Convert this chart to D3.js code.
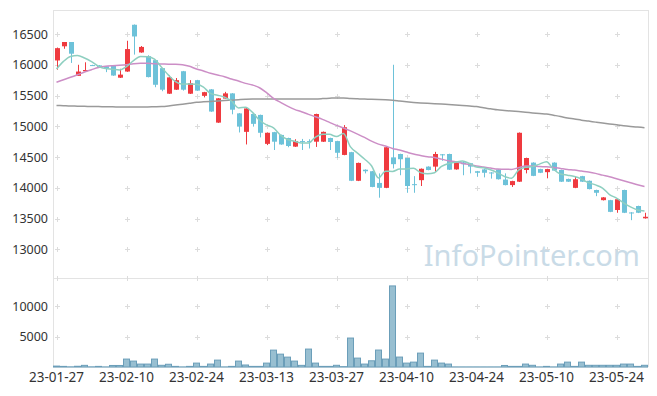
<!DOCTYPE html>
<html>
<head>
<meta charset="utf-8">
<script src="https://cdn.jsdelivr.net/npm/d3@7"></script>
<style>
  html, body { margin: 0; padding: 0; background: #fff; }
  svg { display: block; font-family: 'Noto Sans', sans-serif; }
</style>
</head>
<body>
<svg id="chart" width="657" height="396"></svg>
<script>
// trading days (yy-mm-dd)
const dates = [
  '23-01-27','23-01-30','23-01-31','23-02-01','23-02-02','23-02-03','23-02-06','23-02-07','23-02-08','23-02-09',
  '23-02-10','23-02-13','23-02-14','23-02-15','23-02-16','23-02-17','23-02-20','23-02-21','23-02-22','23-02-23',
  '23-02-24','23-02-27','23-02-28','23-03-02','23-03-03','23-03-06','23-03-07','23-03-08','23-03-09','23-03-10',
  '23-03-13','23-03-14','23-03-15','23-03-16','23-03-17','23-03-20','23-03-21','23-03-22','23-03-23','23-03-24',
  '23-03-27','23-03-28','23-03-29','23-03-30','23-03-31','23-04-03','23-04-04','23-04-05','23-04-06','23-04-07',
  '23-04-10','23-04-11','23-04-12','23-04-13','23-04-14','23-04-17','23-04-18','23-04-19','23-04-20','23-04-21',
  '23-04-24','23-04-25','23-04-26','23-04-27','23-04-28','23-05-02','23-05-03','23-05-04','23-05-08','23-05-09',
  '23-05-10','23-05-11','23-05-12','23-05-15','23-05-16','23-05-17','23-05-18','23-05-19','23-05-22','23-05-23',
  '23-05-24','23-05-25','23-05-26','23-05-30','23-05-31'
];

const open = [
  16070,16300,16370,15820,15895,15995,15990,15975,15990,15790,
  15890,16650,16200,16140,16075,15945,15530,15595,15895,15530,
  15750,15495,15600,15060,15450,15535,15210,14910,15200,15185,
  14715,14905,14860,14810,14670,14760,14760,14750,14750,14810,
  14760,14535,14580,14115,14295,14270,14080,14000,14495,14550,
  14485,14060,14125,14345,14345,14545,14550,14300,14415,14400,
  14270,14300,14250,14300,14135,14045,14100,14290,14410,14305,
  14255,14410,14290,14145,14000,14190,14115,13965,13800,13800,
  13640,13965,13600,13705,13505
];
const high = [
  16280,16370,16370,16000,16040,16000,15995,15980,15995,15935,
  16390,16655,16305,16155,16080,15950,15830,15785,15900,15750,
  15755,15560,15605,15460,15560,15540,15215,15295,15205,15190,
  14900,14910,14865,14815,14790,14795,14790,15205,14915,14815,
  14765,15020,14585,14410,14300,14275,14235,14665,16000,14555,
  14490,14190,14315,14350,14585,14550,14555,14420,14420,14405,
  14275,14310,14255,14305,14235,14115,14900,14490,14415,14310,
  14310,14415,14295,14150,14180,14195,14120,13970,13850,13805,
  13820,13970,13605,13710,13595
];
const low = [
  15920,16260,16030,15820,15890,15980,15955,15880,15820,15785,
  15885,16165,16195,15795,15635,15570,15525,15590,15580,15525,
  15575,15470,15235,15055,15445,15195,14900,14705,14995,14820,
  14695,14615,14700,14660,14665,14615,14640,14665,14745,14615,
  14490,14530,14110,14110,14235,14010,13840,13995,14315,14205,
  13920,13920,14030,14285,14260,14440,14290,14295,14205,14235,
  14180,14170,14150,14135,14040,14015,14095,14235,14190,14240,
  14155,14275,14095,14095,13995,14095,13975,13865,13795,13605,
  13595,13590,13475,13590,13500
];
const close = [
  16270,16370,16180,15890,15915,15985,15960,15940,15825,15840,
  16255,16460,16290,15800,15675,15595,15795,15750,15595,15700,
  15580,15555,15240,15455,15535,15270,14995,15290,15040,14895,
  14895,14750,14705,14680,14760,14745,14745,15200,14910,14745,
  14570,14985,14115,14405,14270,14015,14000,14660,14385,14465,
  14030,14050,14310,14290,14550,14535,14295,14415,14385,14345,
  14245,14245,14245,14140,14045,14110,14895,14485,14195,14245,
  14305,14280,14100,14100,14140,14100,13980,13920,13845,13610,
  13815,13595,13590,13595,13530
];
const volume = [
  150,100,30,120,270,30,100,20,250,250,
  1300,970,480,480,1300,280,450,100,20,100,
  640,100,480,1130,20,100,970,330,100,100,
  640,2770,2110,1620,970,270,2940,640,100,100,
  280,60,4750,1460,480,1020,2780,1300,13300,1630,
  640,800,2280,100,1130,640,480,20,20,20,
  20,20,20,20,250,100,100,480,280,20,
  100,20,480,800,100,800,280,280,280,280,
  280,480,480,100,280
];
// moving averages
const ma5 = [
  15930,16055,16135,16150,16110,16050,15975,15938,15928,15915,
  15970,16068,16134,16130,16090,15960,15832,15725,15685,15688,
  15684,15636,15534,15506,15473,15411,15299,15309,15226,15098,
  15023,14974,14857,14785,14758,14728,14727,14826,14872,14869,
  14834,14882,14665,14564,14469,14358,14161,14270,14266,14305,
  14308,14318,14248,14229,14246,14347,14396,14417,14436,14395,
  14337,14327,14293,14244,14184,14157,14287,14335,14346,14386,
  14425,14302,14225,14206,14185,14144,14084,14048,13997,13891,
  13834,13757,13691,13641,13625
];
const ma20 = [
  15715,15757,15796,15838,15882,15920,15955,15975,15985,15992,
  16002,16017,16025,16023,16015,16012,16010,16008,16000,15975,
  15930,15900,15861,15833,15806,15768,15736,15698,15671,15627,
  15546,15454,15389,15329,15276,15237,15194,15155,15113,15064,
  15015,14972,14925,14874,14820,14760,14711,14679,14641,14614,
  14581,14549,14527,14505,14495,14467,14440,14424,14397,14381,
  14354,14337,14321,14305,14303,14300,14327,14354,14354,14345,
  14343,14332,14316,14300,14289,14272,14256,14235,14207,14180,
  14148,14115,14083,14050,14023
];
const ma60 = [
  15340,15335,15330,15328,15325,15322,15320,15318,15316,15315,
  15313,15313,15314,15315,15318,15322,15332,15345,15360,15375,
  15390,15398,15405,15412,15418,15425,15432,15438,15442,15444,
  15445,15444,15443,15443,15442,15442,15443,15445,15450,15456,
  15462,15460,15452,15447,15443,15440,15436,15430,15422,15410,
  15398,15388,15380,15374,15368,15362,15355,15348,15340,15330,
  15320,15300,15285,15268,15258,15248,15240,15230,15218,15208,
  15200,15180,15160,15135,15120,15100,15085,15068,15052,15038,
  15025,15010,14998,14988,14978
];
const xTickLabels = ['23-01-27','23-02-10','23-02-24','23-03-13','23-03-27','23-04-10','23-04-24','23-05-10','23-05-24'];
const priceTicks = [13000, 13500, 14000, 14500, 15000, 15500, 16000, 16500];
const volumeTicks = [5000, 10000];

const left = 53, right = 648;
const priceTop = 10, priceBottom = 277.7;
const volTop = 278, volBottom = 367;

const svg = d3.select('#chart');

const x = d3.scaleBand().domain(dates).range([left, right]);
const cx = (d) => x(d) + x.bandwidth() / 2;
const y = d3.scaleLinear().domain([12540, 16890]).range([priceBottom, priceTop]);
const yv = d3.scaleLinear().domain([0, 14600]).range([volBottom, volTop]);

// frame
const frame = svg.append('g').attr('stroke', '#e3e3e3').attr('stroke-width', 1);
frame.append('line').attr('x1', left).attr('x2', right).attr('y1', priceTop + 0.5).attr('y2', priceTop + 0.5);
frame.append('line').attr('x1', left).attr('x2', right).attr('y1', volTop + 0.5).attr('y2', volTop + 0.5);
frame.append('line').attr('x1', left).attr('x2', right).attr('y1', volBottom + 0.5).attr('y2', volBottom + 0.5).attr('stroke', '#ececec');
frame.append('line').attr('x1', left + 0.5).attr('x2', left + 0.5).attr('y1', priceTop).attr('y2', volBottom);
frame.append('line').attr('x1', right + 0.5).attr('x2', right + 0.5).attr('y1', priceTop).attr('y2', volBottom);

// grid crosses
const cross = svg.append('g').attr('stroke', '#dcdcdc').attr('stroke-width', 1);
const gridPts = [];
xTickLabels.forEach((d) => {
  priceTicks.forEach((v) => gridPts.push([cx(d), y(v)]));
  volumeTicks.forEach((v) => gridPts.push([cx(d), yv(v)]));
});
cross.selectAll('.h').data(gridPts).join('line')
  .attr('x1', (p) => Math.round(p[0]) - 2).attr('x2', (p) => Math.round(p[0]) + 3)
  .attr('y1', (p) => Math.round(p[1]) + 0.5).attr('y2', (p) => Math.round(p[1]) + 0.5);
cross.selectAll('.v').data(gridPts).join('line')
  .attr('x1', (p) => Math.round(p[0]) + 0.5).attr('x2', (p) => Math.round(p[0]) + 0.5)
  .attr('y1', (p) => Math.round(p[1]) - 2).attr('y2', (p) => Math.round(p[1]) + 3);
cross.selectAll('.b').data(xTickLabels).join('line')
  .attr('x1', (d) => Math.round(cx(d)) + 0.5).attr('x2', (d) => Math.round(cx(d)) + 0.5)
  .attr('y1', volTop - 2).attr('y2', volTop + 3);

// watermark
svg.append('text')
  .attr('x', 640).attr('y', 266)
  .attr('text-anchor', 'end')
  .attr('font-size', 29).attr('fill', '#c9dbe7')
  .text('InfoPointer.com');

// candles
const candles = dates.map((d, i) => ({ d, o: open[i], h: high[i], l: low[i], c: close[i] }));
const color = (k) => (k.c >= k.o ? '#ef3a3f' : '#6dc2d9');

svg.append('g').selectAll('line').data(candles).join('line')
  .attr('x1', (k) => Math.round(cx(k.d)) + 0.5).attr('x2', (k) => Math.round(cx(k.d)) + 0.5)
  .attr('y1', (k) => y(k.h)).attr('y2', (k) => y(k.l))
  .attr('stroke', color).attr('stroke-width', 1);

svg.append('g').selectAll('rect').data(candles).join('rect')
  .attr('x', (k) => Math.round(cx(k.d)) - 2)
  .attr('width', 5)
  .attr('y', (k) => y(Math.max(k.o, k.c)))
  .attr('height', (k) => Math.max(1, Math.abs(y(k.o) - y(k.c))))
  .attr('fill', color);

// moving averages
const line = d3.line().x((v, i) => cx(dates[i])).y((v) => y(v)).curve(d3.curveMonotoneX);
[[ma60, '#9a9a9a'], [ma20, '#cc8ec6'], [ma5, '#8ecfc0']].forEach(([s, c]) => {
  svg.append('path').datum(s)
    .attr('fill', 'none').attr('stroke', c).attr('stroke-width', 1.5)
    .attr('d', line);
});

// volume
svg.append('g').selectAll('rect').data(dates).join('rect')
  .attr('x', (d) => x(d) + 0.5)
  .attr('width', x.bandwidth() - 1)
  .attr('y', (d, i) => yv(volume[i]))
  .attr('height', (d, i) => volBottom - yv(volume[i]))
  .attr('fill', '#98bfd1').attr('stroke', '#6b9eb9').attr('stroke-width', 1);

// axis labels
const lab = svg.append('g').attr('fill', '#333').attr('font-size', 12.5);
lab.selectAll('.p').data(priceTicks).join('text')
  .attr('x', 48).attr('y', (v) => y(v)).attr('dy', '0.36em')
  .attr('text-anchor', 'end').text((v) => v);
lab.selectAll('.vv').data(volumeTicks).join('text')
  .attr('x', 48).attr('y', (v) => yv(v)).attr('dy', '0.36em')
  .attr('text-anchor', 'end').text((v) => v);
lab.selectAll('.x').data(xTickLabels).join('text')
  .attr('x', (d) => cx(d)).attr('y', 382)
  .attr('text-anchor', 'middle').attr('font-size', 13.5).text((d) => d);
</script>
</body>
</html>
